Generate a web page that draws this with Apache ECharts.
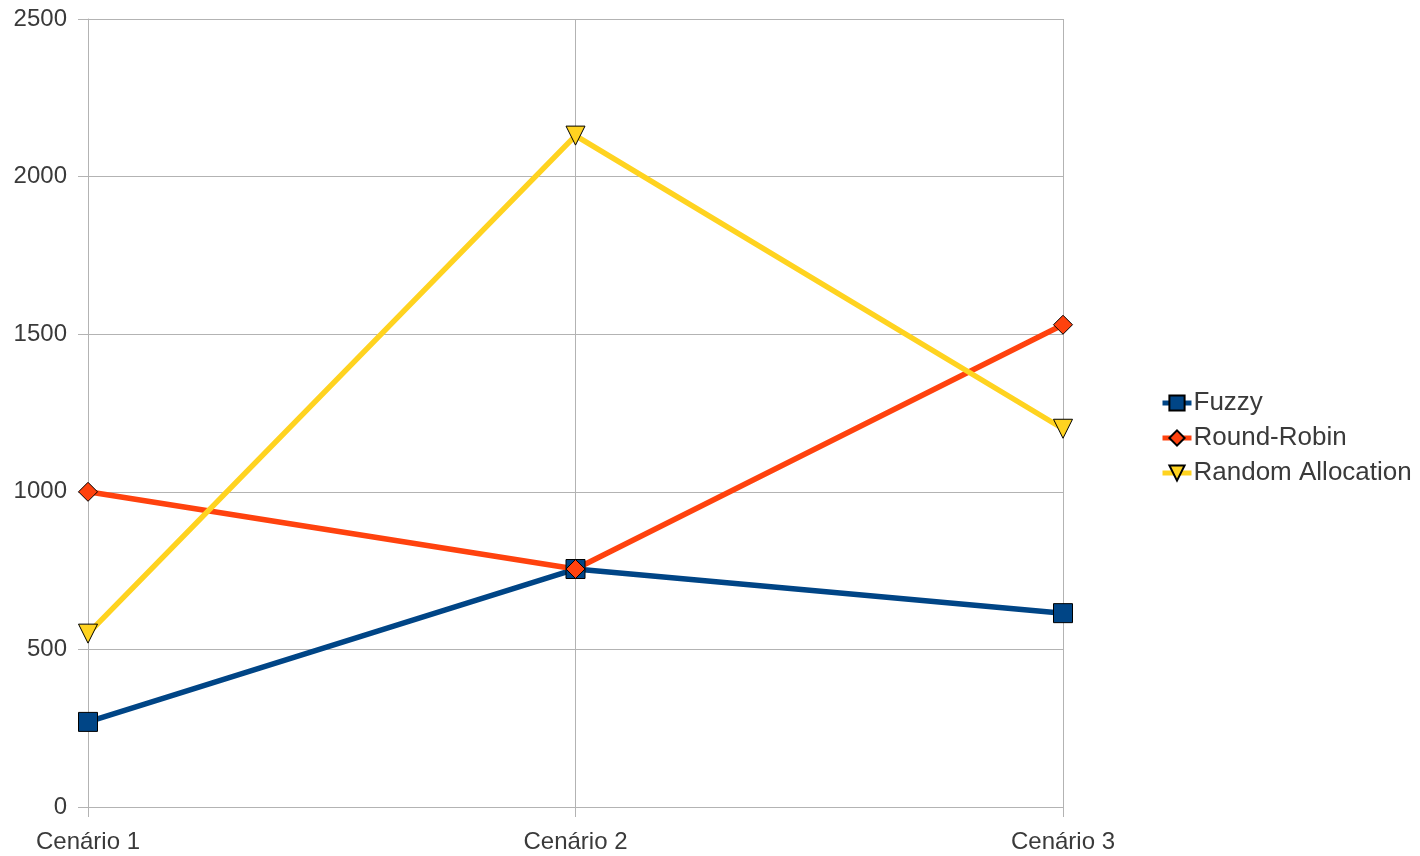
<!DOCTYPE html>
<html>
<head>
<meta charset="utf-8">
<script src="https://cdn.jsdelivr.net/npm/echarts@6/dist/echarts.min.js"></script>
<style>
html,body{margin:0;padding:0;background:#fff;}
#chart{width:1420px;height:856px;}
</style>
</head>
<body>
<div id="chart"></div>
<script>
const categories = ['Cenário 1', 'Cenário 2', 'Cenário 3'];
const fuzzy = [270, 755, 615];
const roundRobin = [1000, 755, 1530];
const randomAlloc = [550, 2130, 1200];
const yTicks = {min: 0, max: 2500, interval: 500};

const textColor = '#3a3a3a';
const gridColor = '#b3b3b3';
const font = '"Liberation Sans", Arial, sans-serif';

const chart = echarts.init(document.getElementById('chart'), null, {renderer: 'canvas'});
function mk(name, data, color, symbol, size, rotate) {
  return {
    name: name, type: 'line', data: data,
    symbol: symbol, symbolSize: size, symbolRotate: rotate || 0,
    lineStyle: {color: color, width: 5.5},
    itemStyle: {color: color, borderColor: '#000', borderWidth: 1},
    emphasis: {disabled: true},
    animation: false
  };
}
chart.setOption({
  backgroundColor: '#fff',
  textStyle: {fontFamily: font},
  grid: {left: 88, right: 357, top: 19, bottom: 49, containLabel: false},
  legend: {
    orient: 'vertical', left: 1155, top: 385,
    itemWidth: 29, itemHeight: 19, itemGap: 9,
    lineStyle: {width: 5},
    textStyle: {fontSize: 26, color: textColor, fontFamily: font, padding: [0, 0, 0, -3]},
    data: ['Fuzzy', 'Round-Robin', 'Random Allocation']
  },
  xAxis: {
    type: 'category', data: categories, boundaryGap: false,
    axisLine: {lineStyle: {color: gridColor, width: 1}},
    axisTick: {show: true, length: 10, lineStyle: {color: gridColor}},
    splitLine: {show: true, lineStyle: {color: gridColor, width: 1}},
    axisLabel: {fontSize: 24, color: textColor, margin: 23, fontFamily: font}
  },
  yAxis: {
    type: 'value', min: yTicks.min, max: yTicks.max, interval: yTicks.interval,
    axisLine: {show: true, lineStyle: {color: gridColor, width: 1}},
    axisTick: {show: true, length: 10, lineStyle: {color: gridColor}},
    splitLine: {show: true, lineStyle: {color: gridColor, width: 1}},
    axisLabel: {fontSize: 24, color: textColor, margin: 21, fontFamily: font,
      formatter: function (v) { return String(v); }}
  },
  series: [
    mk('Fuzzy', fuzzy, '#004586', 'rect', 19),
    mk('Round-Robin', roundRobin, '#ff420e', 'diamond', 19),
    mk('Random Allocation', randomAlloc, '#ffd320', 'triangle', 19, 180)
  ]
});
</script>
</body>
</html>
